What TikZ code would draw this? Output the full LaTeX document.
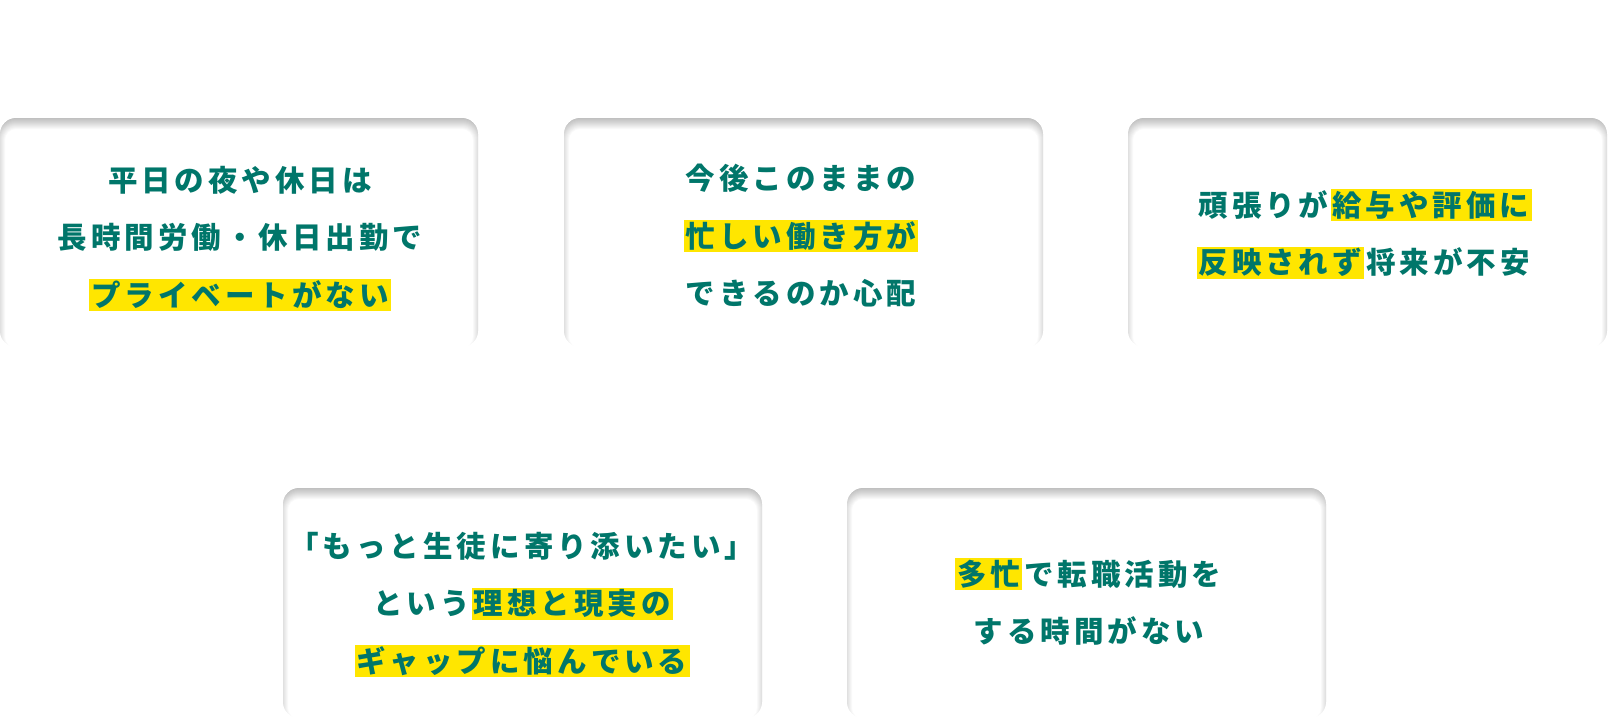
\documentclass[tikz,border=0pt]{standalone}
\usepackage{fontspec}
\newfontfamily\jp{Noto Sans CJK JP Black}
\definecolor{tealtxt}{RGB}{0,118,106}
\definecolor{hly}{RGB}{255,230,0}
\newlength\cw \setlength\cw{33.5pt}
\def\spc#1{\spcA#1\relax}
\def\spcA#1{\ifx\relax#1\else\makebox[\cw]{#1}\expandafter\spcA\fi}
\newcommand\hs{\rule[-4.8pt]{0pt}{32pt}}
\newcommand\hl[1]{{\setlength\fboxsep{0pt}\colorbox{hly}{\hs\spc{#1}}}}
\newcommand\cardbox[4]{%
  \begin{scope}
    \fill[white, rounded corners=16pt] (#1,#2) rectangle (#3,#4);
    \clip[rounded corners=16pt] (#1,#2) rectangle (#3,#4);
    \foreach \k in {-6,...,5}{%
      \fill[black, opacity=0.022, even odd rule]
        ({#1-20},{#2-20}) rectangle ({#3+20},{#4+20})
        [rounded corners={(16-\k)*1pt}]
        ({#1+\k},{#2+6+\k}) rectangle ({#3-\k},{#4+6-\k});
    }
  \end{scope}}
\tikzset{
  txt/.style={font=\jp\fontsize{29.5}{57.5}\selectfont, text=tealtxt, align=center, inner sep=0pt}
}
\begin{document}
\begin{tikzpicture}[x=1pt,y=-1pt]
\fill[white] (0,0) rectangle (1608,720);
\useasboundingbox (0,0) rectangle (1608,720);
\cardbox{0}{118}{478}{347}
\cardbox{564}{118}{1043}{347}
\cardbox{1128}{118}{1607}{347}
\cardbox{283}{488}{762}{718}
\cardbox{847}{488}{1326}{718}
\node[txt] (t1) at (240,237.5) {\hs\spc{平日の夜や休日は}\\\hs\spc{長時間労働・休日出勤で}\\\hl{プライベートがない}};
\node[txt] (t2) at (801,236) {\hs\spc{今後このままの}\\\hl{忙しい働き方が}\\\hs\spc{できるのか心配}};
\node[txt] (t3) at (1364,234) {\hs\spc{頑張りが}\hl{給与や評価に}\\\hl{反映されず}\spc{将来が不安}};
\node[txt] (t4) at (522,603.5) {\hs\spc{「もっと生徒に寄り添いたい」}\\\hs\spc{という}\hl{理想と現実の}\\\hl{ギャップに悩んでいる}};
\node[txt] (t5) at (1089,603) {\hl{多忙}\spc{で転職活動を}\\\hs\spc{する時間がない}};
\end{tikzpicture}
\end{document}
